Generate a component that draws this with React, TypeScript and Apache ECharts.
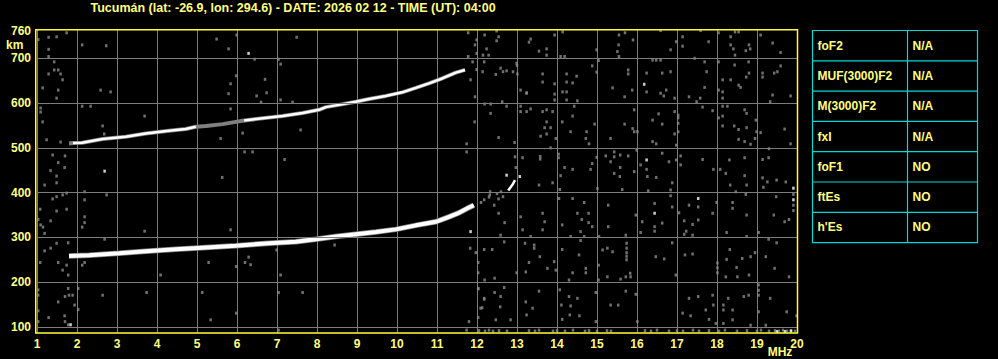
import React, { useEffect, useRef } from "react";
import * as echarts from "echarts";

// ---------- data ----------
const titleText = "Tucumán (lat: -26.9, lon: 294.6) - DATE: 2026 02 12 - TIME (UT): 04:00";
const xUnit = "MHz";
const yUnit = "km";
const yGridValues = [100, 200, 300, 400, 500, 600, 700];
const yLabelValues = [100, 200, 300, 400, 500, 600, 700, 760];
const paramNames = ["foF2", "MUF(3000)F2", "M(3000)F2", "fxI", "foF1", "ftEs", "h'Es"];
const paramValues = ["N/A", "N/A", "N/A", "N/A", "NO", "NO", "NO"];

// upper (multi-hop) F trace
const upperTraceA = [[1.9, 511], [2.13, 511.5], [2.64, 520], [3.22, 525], [3.72, 532], [4.3, 538], [4.72, 542], [4.97, 547]];
const upperTraceGap = [[1.8, 510], [1.9, 511], [4.97, 547], [5.22, 549], [5.64, 553], [5.97, 558], [6.18, 561]];
const upperTraceB = [[6.18, 561], [6.64, 566], [7.14, 571], [7.64, 578], [8.05, 585], [8.22, 591], [8.55, 596], [8.97, 603], [9.3, 609], [9.72, 616], [10.13, 624], [10.47, 634], [10.8, 644], [11.13, 655], [11.47, 668], [11.7, 674]];

// lower F trace
const lowerTrace = [[1.8, 258.5], [2.3, 260], [3.05, 264.6], [3.72, 269], [4.47, 273.5], [5.13, 277], [5.97, 281.5], [6.8, 287], [7.47, 290.5], [7.97, 296], [8.47, 302], [8.97, 307], [9.47, 312], [9.97, 318], [10.47, 327], [10.97, 335], [11.3, 346], [11.55, 355], [11.76, 365], [11.92, 372]];
const lowerTraceEnd = [[12.78, 405], [12.84, 412], [12.89, 418], [12.95, 428]];

// scattered echoes / noise
const grayEchoes = [
  [1.03, 742], [1.29, 747], [1.49, 748], [1.74, 757], [2.13, 730], [2.73, 728], [1.29, 720], [1.29, 704], [1.43, 692], [1.43, 674], [1.53, 674], [1.29, 665], [1.59, 665], [1.64, 652], [1.14, 634], [1.53, 629], [1.49, 611], [2.59, 629], [2.84, 625], [1.09, 589], [1.09, 580], [1.14, 558], [2.13, 593], [2.34, 593], [3.69, 571], [2.64, 549], [2.68, 531], [1.24, 518], [1.59, 513], [1.39, 484], [1.53, 467], [1.7, 482], [1.34, 449], [1.49, 437], [1.69, 456], [5.49, 743], [5.79, 721], [5.99, 752], [6.44, 698], [5.98, 661], [5.84, 643], [5.79, 621], [5.84, 587], [6.49, 616], [6.7, 653], [6.74, 623], [7.09, 687], [7.04, 698], [7.49, 747], [7.09, 607], [7.39, 602], [6.6, 602], [6.14, 533], [5.59, 521], [6.19, 491], [6.39, 491], [7.59, 540], [7.19, 474], [5.63, 434],
  [1.19, 417], [1.49, 422], [1.74, 399], [1.64, 395], [1.39, 386], [1.49, 391], [2.19, 402], [2.19, 384], [2.74, 395], [1.08, 363], [1.49, 359], [1.74, 363], [1.34, 337], [1.03, 340], [1.09, 328], [1.15, 323], [1.19, 309], [2.19, 346], [2.19, 333], [2.13, 323], [3.69, 314], [2.69, 296], [1.49, 287], [1.34, 276], [1.78, 288], [1.19, 270], [1.08, 244], [1.53, 244], [1.64, 227], [1.74, 238], [1.78, 216], [2.19, 244], [2.13, 238], [1.03, 183], [1.03, 171], [1.78, 186], [2.03, 186], [1.7, 168], [1.8, 171], [1.89, 171], [2.64, 171], [1.53, 156], [1.94, 149], [2.03, 139], [1.03, 136], [1.29, 121], [1.69, 125], [1.7, 112], [1.78, 105], [1.03, 112], [4.09, 216], [3.74, 177], [5.13, 177], [5.29, 244], [5.84, 317], [5.98, 235], [6.2, 244], [6.29, 256], [6.34, 239], [5.98, 131], [5.34, 116], [7.09, 216], [7.04, 177], [7.64, 177], [7.04, 93], [6.99, 272], [8.44, 283],
  [11.78, 757], [11.99, 741], [11.95, 730], [11.99, 711], [11.78, 704], [12.19, 752], [12.24, 721], [12.49, 761], [12.49, 739], [12.54, 748], [12.15, 707], [12.29, 707], [12.18, 692], [11.89, 692], [12.14, 670], [11.84, 652], [11.99, 675], [12.47, 664], [12.59, 678], [12.65, 670], [12.74, 672], [12.9, 670], [12.99, 689], [13.0, 684], [13.01, 665], [11.95, 614], [12.19, 598], [12.34, 598], [12.63, 603], [12.74, 593], [12.34, 577], [11.94, 558], [11.74, 509], [11.74, 491], [12.54, 523], [12.94, 512], [12.95, 480], [12.97, 456], [13.14, 478], [13.09, 581], [13.09, 593], [13.24, 622], [13.09, 629],
  [13.34, 743], [13.3, 736], [13.55, 716], [13.74, 721], [13.74, 707], [13.94, 752], [14.14, 759], [14.09, 704], [14.19, 704], [13.64, 665], [13.64, 647], [13.94, 643], [14.24, 665], [14.24, 647], [14.39, 645], [14.49, 660], [13.24, 623], [13.94, 620], [14.14, 625], [14.24, 625], [13.94, 607], [14.24, 607], [14.51, 605], [14.43, 593], [13.34, 587], [13.24, 581], [13.64, 581], [13.74, 585], [13.89, 581], [14.39, 571], [13.74, 558], [13.69, 545], [13.84, 545], [13.59, 526], [13.74, 531], [13.97, 521], [13.84, 500], [14.13, 558], [14.34, 536], [14.72, 521], [14.74, 536], [14.94, 553], [14.88, 683], [14.99, 719], [15.04, 695], [14.99, 669], [15.39, 634], [15.54, 730], [15.51, 715], [15.55, 752], [15.7, 757], [15.9, 741], [15.55, 704], [15.78, 674], [15.78, 665], [15.88, 629], [15.69, 614], [15.93, 585], [15.34, 521], [15.69, 553], [15.89, 543], [16.01, 536], [15.93, 536], [15.43, 491], [15.43, 480], [15.58, 484], [15.78, 482], [15.34, 469], [15.58, 456], [15.57, 436], [15.43, 443], [15.22, 482], [14.99, 479], [14.88, 465], [14.84, 452], [14.39, 452], [14.19, 456], [14.09, 438], [15.93, 447], [15.99, 495], [16.09, 462], [16.24, 452], [16.26, 436], [16.48, 434], [16.24, 667], [16.24, 625], [16.39, 696], [16.48, 696], [16.59, 696], [16.63, 667], [16.84, 670], [16.73, 629], [16.59, 622], [16.67, 616], [16.94, 611], [16.59, 762], [16.84, 719], [16.98, 737], [17.14, 748], [17.14, 727], [16.39, 562], [16.54, 576], [16.63, 553], [16.39, 514], [16.48, 509], [16.94, 581], [17.03, 573], [17.03, 567], [17.03, 555], [17.03, 536], [16.94, 531], [16.98, 506], [17.09, 482], [17.09, 462], [16.8, 469], [16.63, 488], [16.98, 473], [13.58, 475], [13.58, 481], [14.04, 478], [14.04, 486], [14.8, 509],
  [17.44, 700], [17.69, 692], [17.59, 762], [17.79, 737], [18.04, 757], [18.34, 748], [18.45, 759], [18.54, 759], [18.34, 730], [18.41, 721], [18.72, 717], [18.8, 730], [18.83, 721], [18.45, 707], [19.09, 752], [19.39, 734], [19.59, 713], [17.74, 670], [17.69, 635], [17.3, 614], [17.49, 603], [17.58, 611], [17.64, 591], [17.89, 583], [18.04, 692], [18.04, 629], [18.14, 652], [18.34, 652], [18.14, 625], [18.14, 611], [18.44, 685], [18.54, 640], [18.59, 635], [18.73, 658], [18.8, 667], [18.79, 692], [19.14, 667], [19.14, 658], [19.43, 667], [19.51, 670], [19.59, 683], [19.39, 618], [19.84, 616], [19.33, 603], [18.04, 567], [18.14, 593], [18.26, 593], [18.14, 571], [18.14, 549], [18.43, 549], [18.54, 541], [18.54, 519], [18.69, 585], [18.74, 577], [18.74, 545], [18.69, 514], [18.84, 508], [18.95, 521], [18.97, 562], [19.09, 534], [18.99, 536], [19.69, 542], [19.84, 509], [19.3, 498], [19.14, 474], [19.29, 478], [19.14, 433], [18.69, 478], [18.08, 452], [18.22, 443], [18.31, 473], [18.69, 438], [17.64, 474], [17.91, 452], [19.49, 428],
  [12.1, 378], [12.3, 390], [12.5, 398], [12.6, 402], [11.83, 276], [11.97, 266], [12.03, 244], [12.03, 221], [12.18, 273], [12.38, 273], [12.44, 209], [12.19, 205], [12.03, 185], [12.18, 162], [12.09, 142], [12.03, 121], [11.8, 112], [11.74, 93], [12.18, 384], [12.32, 395], [12.43, 372], [12.54, 386], [12.65, 391], [12.54, 354], [12.69, 333], [12.59, 305], [12.68, 290], [12.33, 402], [13.09, 346], [13.14, 317], [13.34, 302], [13.2, 287], [13.43, 283], [13.43, 276], [13.57, 257], [13.3, 244], [12.99, 221], [13.55, 417], [13.89, 422], [13.64, 354], [13.69, 335], [13.64, 317], [14.07, 407], [14.05, 387], [14.39, 387], [14.51, 354], [14.68, 378], [14.79, 354], [14.79, 333], [14.62, 340], [14.88, 324], [14.59, 313], [14.13, 328], [14.34, 302], [14.59, 293], [14.68, 302], [15.01, 409], [15.28, 372], [15.28, 324], [15.05, 302], [15.63, 407], [15.72, 305], [15.74, 287], [15.97, 350], [16.13, 335], [16.09, 311], [16.28, 404], [16.44, 376], [16.44, 324], [16.44, 314], [16.63, 332], [16.88, 422], [16.84, 406], [16.84, 393], [16.88, 368], [17.05, 355], [17.18, 337], [17.3, 372], [17.39, 329], [17.23, 314], [17.18, 307], [17.39, 305], [17.53, 368], [17.53, 339], [17.89, 354], [17.99, 378], [18.39, 378], [18.39, 365], [18.33, 417], [18.47, 402], [18.74, 417], [18.72, 396], [18.74, 350], [19.16, 412], [19.26, 424], [19.48, 391], [19.42, 350], [19.72, 424], [19.69, 335], [19.8, 340], [18.24, 311], [18.74, 302], [19.04, 311], [19.29, 296], [19.49, 288],
  [12.03, 186], [12.68, 188], [12.44, 177], [12.18, 164], [12.59, 168], [12.13, 143], [12.47, 116], [12.58, 145], [13.22, 156], [13.24, 127], [13.55, 180], [13.39, 142], [12.84, 116], [13.22, 223], [13.76, 231], [13.93, 246], [13.97, 227], [14.13, 273], [14.3, 205], [14.39, 221], [14.72, 231], [14.72, 221], [14.55, 261], [15.04, 238], [15.04, 205], [15.26, 212], [15.39, 268], [15.14, 272], [15.26, 276], [15.74, 250], [15.74, 258], [15.74, 266], [15.74, 276], [15.59, 207], [15.83, 220], [15.72, 212], [15.84, 212], [14.07, 183], [14.3, 168], [14.51, 164], [14.34, 147], [14.11, 149], [14.13, 117], [14.32, 127], [14.56, 125], [14.97, 177], [15.34, 149], [15.53, 149], [15.72, 180], [15.97, 173], [14.97, 112], [16.01, 112], [16.47, 257], [16.68, 252], [16.88, 288], [16.97, 216], [17.2, 261], [17.39, 263], [18.01, 221], [18.01, 232], [18.01, 243], [18.32, 273], [18.24, 251], [18.49, 233], [18.63, 253], [18.84, 257], [18.95, 266], [19.22, 257], [19.44, 231], [18.8, 216], [18.51, 212], [18.22, 212], [19.8, 212], [17.3, 164], [17.14, 131], [17.34, 125], [17.53, 168], [17.72, 138], [17.89, 171], [17.91, 149], [18.16, 138], [18.16, 149], [18.28, 164], [18.39, 138], [18.39, 116], [18.67, 168], [18.79, 171], [19.04, 171], [19.04, 182], [19.04, 194], [19.04, 134], [19.33, 164], [19.74, 134], [19.99, 125], [17.8, 117], [17.97, 108], [18.84, 104], [19.22, 104], [18.16, 108], [19.91, 360], [19.91, 372], [19.91, 396],
  [12.05, 92], [12.2, 91], [12.3, 93], [12.4, 91], [12.55, 92], [12.75, 91], [13.3, 92], [13.45, 91], [13.55, 93], [13.9, 91], [14.0, 92], [14.2, 91], [14.4, 93], [14.7, 91], [14.8, 92], [15.0, 91], [15.25, 92], [15.35, 91], [16.2, 92], [16.35, 91], [16.5, 93], [16.8, 91], [17.0, 92], [17.15, 91], [17.4, 93], [17.55, 91], [17.8, 92], [18.05, 91], [18.2, 93], [18.5, 91], [18.75, 92], [19.0, 91], [19.1, 93], [19.3, 91], [19.45, 92], [19.55, 91], [19.65, 93], [19.75, 91], [19.85, 92], [19.95, 91]
];
const whiteEchoes = [[2.69, 448], [6.29, 711], [1.84, 105], [16.24, 473], [16.18, 642], [12.74, 439], [13.07, 436], [11.84, 313], [17.53, 387], [16.44, 354], [19.91, 410], [19.91, 384], [19.5, 90], [19.7, 90], [19.85, 91]];

export default function App() {
  const ref = useRef<HTMLDivElement>(null);

  useEffect(() => {
    if (!ref.current) return;
    const chart = echarts.init(ref.current, null, { renderer: "svg" });
    const yellow = "#ffff80";
    const gridGray = "#7c7c7c";
    const font = "'Liberation Sans', Arial, sans-serif";

    const tableLeft = 812.5;
    const tableRight = 977.5;
    const tableMid = 907.5;
    const tableTop = 30.5;
    const rowH = 30.3;

    const tableEls: any[] = [];
    tableEls.push({
      type: "rect",
      shape: { x: tableLeft, y: tableTop, width: tableRight - tableLeft, height: rowH * paramNames.length },
      style: { fill: "none", stroke: "#00d8d8", lineWidth: 1.2 },
    });
    tableEls.push({
      type: "line",
      shape: { x1: tableMid, y1: tableTop, x2: tableMid, y2: tableTop + rowH * paramNames.length },
      style: { stroke: "#00d8d8", lineWidth: 1.2 },
    });
    paramNames.forEach((name, i) => {
      if (i > 0) {
        tableEls.push({
          type: "line",
          shape: { x1: tableLeft, y1: tableTop + rowH * i, x2: tableRight, y2: tableTop + rowH * i },
          style: { stroke: "#00d8d8", lineWidth: 1.2 },
        });
      }
      const cy = tableTop + rowH * i + rowH / 2;
      tableEls.push({
        type: "text",
        x: 817.5,
        y: cy,
        style: { text: name, fill: yellow, font: `bold 12px ${font}`, textVerticalAlign: "middle", verticalAlign: "middle" },
      });
      tableEls.push({
        type: "text",
        x: 912.5,
        y: cy,
        style: { text: paramValues[i], fill: yellow, font: `bold 12px ${font}`, textVerticalAlign: "middle", verticalAlign: "middle" },
      });
    });

    const option: any = {
      animation: false,
      backgroundColor: "#000000",
      grid: { left: 37, right: 201, top: 30, bottom: 26, containLabel: false },
      xAxis: {
        type: "value",
        min: 1,
        max: 20,
        interval: 1,
        axisLine: { show: false },
        axisTick: { show: false },
        axisLabel: { color: yellow, fontWeight: "bold", fontSize: 12, fontFamily: font, margin: 5 },
        splitLine: { show: true, lineStyle: { color: gridGray, width: 1 } },
      },
      yAxis: {
        type: "value",
        min: 86.6,
        max: 763.2,
        axisLine: { show: false },
        axisTick: { show: false },
        splitLine: { show: false },
        axisLabel: {
          customValues: yLabelValues,
          color: yellow,
          fontWeight: "bold",
          fontSize: 12,
          fontFamily: font,
          margin: 6,
        },
      },
      graphic: [
        {
          type: "text",
          left: 90.5,
          top: 1,
          style: { text: titleText, fill: yellow, font: `bold 12.5px ${font}` },
        },
        {
          type: "text",
          x: 6,
          y: 45,
          style: { text: yUnit, fill: yellow, font: `bold 12px ${font}`, verticalAlign: "middle", textVerticalAlign: "middle" },
        },
        {
          type: "text",
          x: 780,
          y: 352,
          style: { text: xUnit, fill: yellow, font: `bold 12px ${font}`, align: "center", textAlign: "center", verticalAlign: "middle", textVerticalAlign: "middle" },
        },
        {
          type: "rect",
          z: 100,
          shape: { x: 35.75, y: 29.75, width: 761.75, height: 303.25 },
          style: { fill: "none", stroke: "#ffff33", lineWidth: 1.5 },
        },
        ...tableEls,
      ],
      series: [
        {
          type: "line",
          z: 1,
          data: [[1, 100]],
          showSymbol: false,
          lineStyle: { opacity: 0 },
          silent: true,
          markLine: {
            silent: true,
            symbol: ["none", "none"],
            label: { show: false },
            lineStyle: { color: gridGray, type: "solid", width: 1 },
            data: yGridValues.map((v) => ({ yAxis: v })),
          },
        },
        {
          type: "scatter",
          z: 2,
          data: grayEchoes,
          symbol: "rect",
          symbolSize: [2.5, 3],
          itemStyle: { color: "#8c8c8c" },
          silent: true,
        },
        {
          type: "line",
          z: 3,
          data: upperTraceGap.concat(upperTraceA.slice(1), upperTraceB).sort((a, b) => a[0] - b[0]),
          showSymbol: false,
          lineStyle: { color: "#808080", width: 4 },
          silent: true,
        },
        {
          type: "line",
          z: 4,
          data: upperTraceA,
          showSymbol: false,
          lineStyle: { color: "#ffffff", width: 2.5 },
          silent: true,
        },
        {
          type: "line",
          z: 4,
          data: upperTraceB,
          showSymbol: false,
          lineStyle: { color: "#ffffff", width: 2.5 },
          silent: true,
        },
        {
          type: "line",
          z: 3,
          data: lowerTrace,
          showSymbol: false,
          lineStyle: { color: "#808080", width: 5.5 },
          silent: true,
        },
        {
          type: "line",
          z: 4,
          data: lowerTrace,
          showSymbol: false,
          lineStyle: { color: "#ffffff", width: 4 },
          silent: true,
        },
        {
          type: "line",
          z: 4,
          data: lowerTraceEnd,
          showSymbol: false,
          lineStyle: { color: "#ffffff", width: 2.5 },
          silent: true,
        },
        {
          type: "scatter",
          z: 5,
          data: whiteEchoes,
          symbol: "rect",
          symbolSize: [2.5, 3],
          itemStyle: { color: "#ffffff" },
          silent: true,
        },
      ],
    };
    chart.setOption(option);
    return () => chart.dispose();
  }, []);

  return (
    <div
      ref={ref}
      style={{ position: "fixed", left: 0, top: 0, width: 998, height: 359, background: "#000" }}
    />
  );
}
